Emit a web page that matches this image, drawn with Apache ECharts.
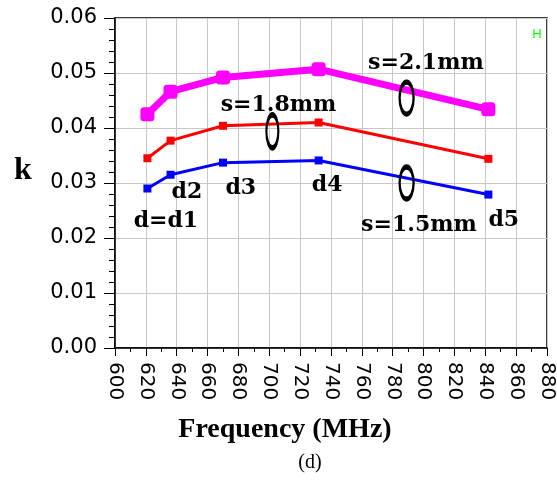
<!DOCTYPE html>
<html>
<head>
<meta charset="utf-8">
<script src="https://cdn.jsdelivr.net/npm/echarts@6/dist/echarts.min.js"></script>
<style>html,body{margin:0;padding:0;background:#fff;}#c{width:557px;height:481px;}</style>
</head>
<body>
<div id="c"></div>
<script>
// Data
const freqs = [621, 636, 670, 732, 842];
const kS15 = [0.0290, 0.0315, 0.0337, 0.0341, 0.0279];
const kS18 = [0.0345, 0.0377, 0.0404, 0.0410, 0.0344];
const kS21 = [0.0425, 0.0466, 0.0492, 0.0507, 0.0434];
const xTicks = {min: 600, max: 880, step: 20};
const yTicks = {min: 0, max: 0.06, step: 0.01};
// Annotation texts placed in data coordinates
const annoText = ['s=2.1mm', 's=1.8mm', 's=1.5mm', 'd=d1', 'd2', 'd3', 'd4', 'd5'];
const annoX = [801.5, 706, 797, 633, 646.6, 681.5, 737.5, 852];
const annoY = [0.0518, 0.0442, 0.0224, 0.0231, 0.0284, 0.0291, 0.0295, 0.0233];
const ellX = [702, 789, 789];
const ellY = [0.0394, 0.04545, 0.0300];

const pair = (xs, ys) => xs.map((x, i) => [x, ys[i]]);

const chart = echarts.init(document.getElementById('c'), null, {renderer: 'canvas'});
chart.setOption({
  animation: false,
  backgroundColor: '#fff',
  grid: {left: 115, top: 18, right: 9, bottom: 133, show: true, borderColor: '#000', borderWidth: 1.5, backgroundColor: 'transparent'},
  xAxis: {
    type: 'value', min: xTicks.min, max: xTicks.max, interval: xTicks.step,
    axisLine: {onZero: false, lineStyle: {color: '#000', width: 1.5}},
    axisTick: {show: true, length: 8, lineStyle: {color: '#000'}},
    minorTick: {show: true, splitNumber: 2, length: 4, lineStyle: {color: '#000'}},
    splitLine: {show: true, lineStyle: {color: '#c8c8c8', width: 1}},
    axisLabel: {rotate: -90, margin: 14, color: '#000', fontFamily: 'DejaVu Sans', fontSize: 20, showMaxLabel: true, showMinLabel: true}
  },
  yAxis: {
    type: 'value', min: yTicks.min, max: yTicks.max, interval: yTicks.step,
    axisLine: {show: true, onZero: false, lineStyle: {color: '#000', width: 1.5}},
    axisTick: {show: true, length: 11, lineStyle: {color: '#000'}},
    minorTick: {show: true, splitNumber: 5, length: 6, lineStyle: {color: '#000'}},
    splitLine: {show: true, lineStyle: {color: '#c8c8c8', width: 1}},
    axisLabel: {margin: 18, color: '#000', fontFamily: 'DejaVu Sans', fontSize: 21, formatter: v => v.toFixed(2)}
  },
  series: [
    {type: 'line', name: 's=1.5mm', data: pair(freqs, kS15), symbol: 'rect', symbolSize: 8,
     lineStyle: {color: '#0000ff', width: 3}, itemStyle: {color: '#0000ff'}, z: 3},
    {type: 'line', name: 's=1.8mm', data: pair(freqs, kS18), symbol: 'rect', symbolSize: 8,
     lineStyle: {color: '#ff0000', width: 3}, itemStyle: {color: '#ff0000'}, z: 3},
    {type: 'line', name: 's=2.1mm', data: pair(freqs, kS21), symbol: 'roundRect', symbolSize: 14,
     lineStyle: {color: '#ff00ff', width: 7}, itemStyle: {color: '#ff00ff'}, z: 3},
    {type: 'scatter', silent: true, symbol: 'circle',
     data: ellX.map((x, i) => ({value: [x, ellY[i]], symbolSize: i === 0 ? [12, 33] : [14, 32]})),
     itemStyle: {color: 'rgba(0,0,0,0)', borderColor: '#000', borderWidth: 3.5, opacity: 1}, z: 5},
    {type: 'scatter', silent: true, symbolSize: 0,
     data: annoText.map((t, i) => ({name: t, value: [annoX[i], annoY[i]]})),
     itemStyle: {opacity: 1},
     label: {show: true, position: 'inside', formatter: p => p.name, color: '#000',
             fontFamily: 'DejaVu Serif', fontWeight: 'bold', fontSize: 22}, z: 6}
  ],
  graphic: [
    {type: 'text', left: 14, top: 155, style: {text: 'k', fill: '#000', font: 'bold 32px "Liberation Serif"'}},
    {type: 'text', x: 285, y: 430, style: {text: 'Frequency (MHz)', fill: '#000', font: 'bold 28px "Liberation Serif"', align: 'center', verticalAlign: 'middle'}},
    {type: 'text', x: 310, y: 463, style: {text: '(d)', fill: '#000', font: '20px "Liberation Serif"', align: 'center', verticalAlign: 'middle'}},
    {type: 'text', x: 537, y: 34, style: {text: 'H', fill: '#00ff00', font: '13px "Liberation Sans"', align: 'center', verticalAlign: 'middle'}}
  ]
});
</script>
</body>
</html>
